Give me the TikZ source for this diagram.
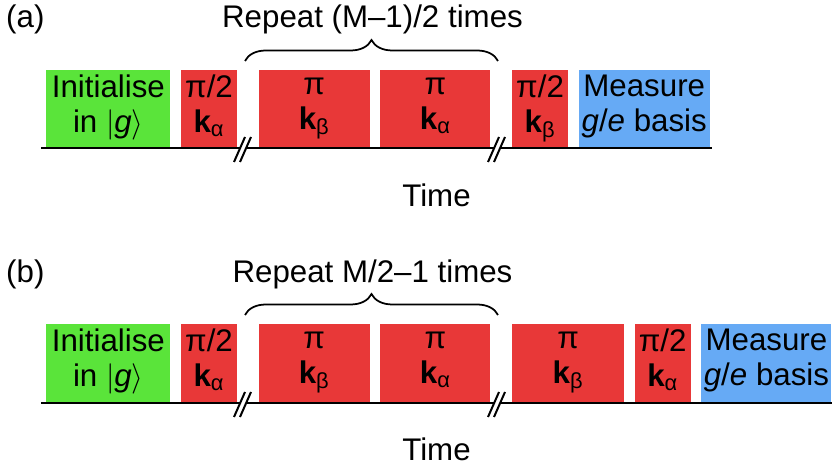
\documentclass[tikz,border=0pt]{standalone}
\usepackage{fontspec}
\setmainfont{Liberation Sans}
\usetikzlibrary{positioning,decorations.pathreplacing}
\definecolor{initgreen}{RGB}{90,228,58}
\definecolor{pulsered}{RGB}{232,56,56}
\definecolor{measblue}{RGB}{102,170,245}

\begin{document}
\begin{tikzpicture}[x=0.02cm,y=-0.02cm,font=\fontsize{17.8}{20}\selectfont,
  box/.style={minimum width=#1,minimum height=1.56cm,inner sep=0pt,align=center,
    execute at begin node=\strut,execute at end node=\strut},
  timeline/.style={line width=0.04cm},
  repbrace/.style={line width=0.035cm,decorate,decoration={brace,amplitude=0.42cm}}]
\useasboundingbox (0,0) rectangle (832,472);
% (a) odd M
\node[anchor=base west] (alabel) at (0,28) {(a)};
\node[box=2.48cm,fill=initgreen,anchor=south west] (ainit) at (46,148) {Initialise\\in $|$\textit{g}$\rangle$};
\node[box=1.12cm,fill=pulsered,right=0.2cm of ainit] (apulse1) {π/2\\\textbf{k}\textsubscript{α}};
\node[box=2.22cm,fill=pulsered,right=0.42cm of apulse1] (apulse2) {π\\\textbf{k}\textsubscript{β}};
\node[box=2.2cm,fill=pulsered,right=0.2cm of apulse2] (apulse3) {π\\\textbf{k}\textsubscript{α}};
\node[box=1.12cm,fill=pulsered,right=0.42cm of apulse3] (apulse4) {π/2\\\textbf{k}\textsubscript{β}};
\node[box=2.62cm,fill=measblue,right=0.2cm of apulse4] (ameas) {Measure\\\textit{g}/\textit{e} basis};
\coordinate (astart) at (41,148);
\coordinate (aend) at (712,148);
\draw[timeline] (astart) -- (aend);
\foreach \bx in {242,496} {
  \fill[white] (\bx-8,162) -- (\bx+3,137) -- (\bx+9,137) -- (\bx-2,162) -- cycle;
  \draw[timeline] (\bx-8,162) -- (\bx+3,137);
  \draw[timeline] (\bx-2,162) -- (\bx+9,137);
}
\draw[repbrace] (245,61) -- (498,61);
\node[anchor=base] (arepeat) at (372.5,28) {Repeat (M--1)/2 times};
\node[anchor=base] (atime) at (436.5,207) {Time};
% (b) even M
\begin{scope}[shift={(0,254)}]
\node[anchor=base west] (blabel) at (0,29) {(b)};
\node[box=2.48cm,fill=initgreen,anchor=south west] (binit) at (46,148) {Initialise\\in $|$\textit{g}$\rangle$};
\node[box=1.12cm,fill=pulsered,right=0.2cm of binit] (bpulse1) {π/2\\\textbf{k}\textsubscript{α}};
\node[box=2.22cm,fill=pulsered,right=0.42cm of bpulse1] (bpulse2) {π\\\textbf{k}\textsubscript{β}};
\node[box=2.2cm,fill=pulsered,right=0.2cm of bpulse2] (bpulse3) {π\\\textbf{k}\textsubscript{α}};
\node[box=2.24cm,fill=pulsered,right=0.42cm of bpulse3] (bpulse4) {π\\\textbf{k}\textsubscript{β}};
\node[box=1.12cm,fill=pulsered,right=0.2cm of bpulse4] (bpulse5) {π/2\\\textbf{k}\textsubscript{α}};
\node[box=2.6cm,fill=measblue,right=0.2cm of bpulse5] (bmeas) {Measure\\\textit{g}/\textit{e} basis};
\coordinate (bstart) at (41,149);
\coordinate (bend) at (832,149);
\draw[timeline] (bstart) -- (bend);
\foreach \bx in {242,496} {
  \fill[white] (\bx-8,163) -- (\bx+3,138) -- (\bx+9,138) -- (\bx-2,163) -- cycle;
  \draw[timeline] (\bx-8,163) -- (\bx+3,138);
  \draw[timeline] (\bx-2,163) -- (\bx+9,138);
}
\draw[repbrace] (245,61) -- (498,61);
\node[anchor=base] (brepeat) at (372.5,29) {Repeat M/2--1 times};
\node[anchor=base] (btime) at (436.5,207) {Time};
\end{scope}
\end{tikzpicture}
\end{document}
